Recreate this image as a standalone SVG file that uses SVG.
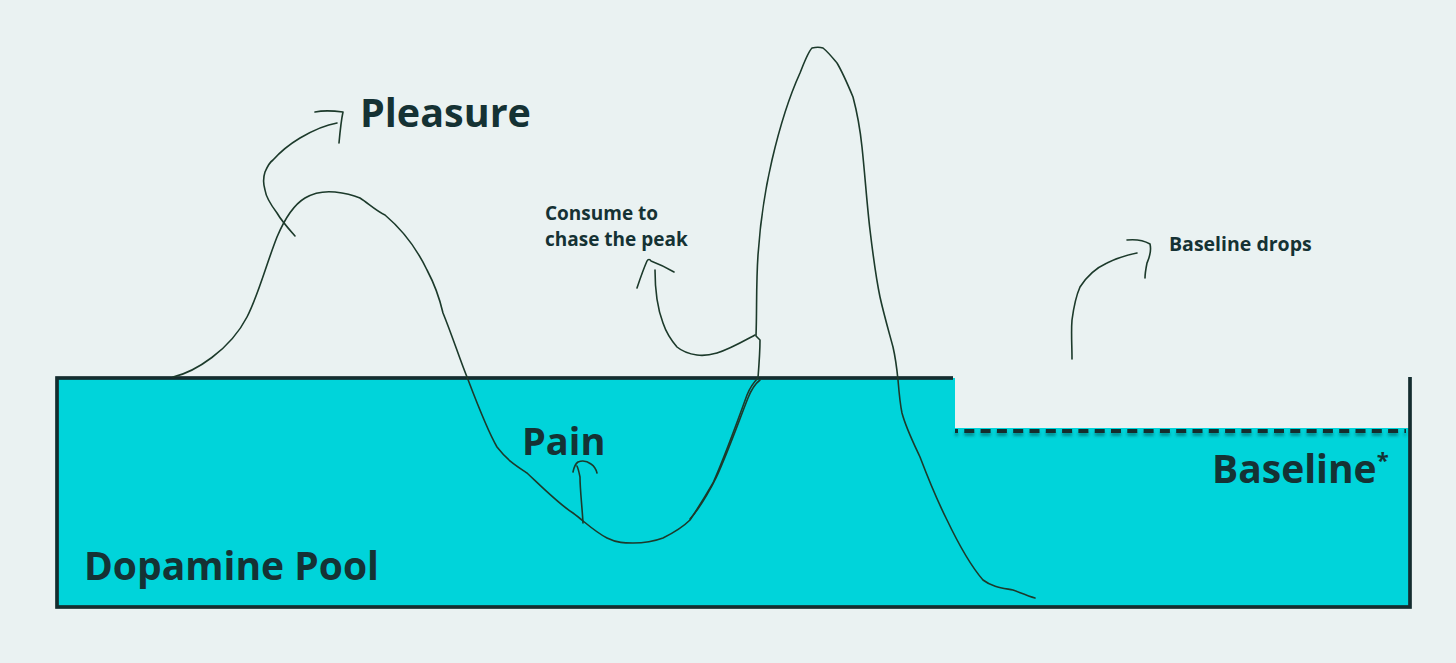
<svg xmlns="http://www.w3.org/2000/svg" width="1456" height="663" viewBox="0 0 1456 663">
<defs>
<style>
.lbl{font-family:"Open Sans","Liberation Sans",sans-serif;font-weight:700;fill:#153234}
.big{font-size:39px}
.small{font-size:19px}
.ink{fill:none;stroke:#1c3a2b;stroke-width:1.6;stroke-linecap:round;stroke-linejoin:round}
.edge{fill:none;stroke:#142d2f;stroke-width:3.5}
</style>
<filter id="sh" filterUnits="userSpaceOnUse" x="940" y="420" width="480" height="25">
<feDropShadow dx="0" dy="3" stdDeviation="1.5" flood-color="#0a3a3c" flood-opacity="0.45"/>
</filter>
</defs>
<rect width="1456" height="663" fill="#eaf2f2"/>
<g id="pool">
<polygon points="57,378 955,378 955,428 1410,428 1410,607 57,607" fill="#00d4da"/>
<path class="edge" d="M1410,377 V607 H57 V378 H953" stroke="#ffffff" stroke-opacity="0.5" stroke-width="6"/>
<path class="edge" d="M1410,377 V607 H57 V378 H953"/>
<line id="baseline-level" x1="955" y1="431" x2="1406" y2="431" stroke="#142d2f" stroke-width="3.8" stroke-dasharray="10 6.3" stroke-dashoffset="7" filter="url(#sh)"/>
<text class="lbl big" x="84" y="580">Dopamine Pool</text>
<text class="lbl big" x="1212" y="483">Baseline<tspan font-size="22" dy="-15">*</tspan></text>
</g>
<g id="connectors">
<path id="curve" class="ink" d="M173,377 C195,372 230,350 247,317 C258,296 266,265 277,237 C285,218 295,204 305,198 C315,192 325,191 335,192 C345,193 353,195 360,198 C368,203 375,210 385,215 C398,226 415,245 427,270 C435,285 440,300 443,313 C452,335 460,360 467,377 C475,398 487,430 497,447 C507,460 515,465 527,473 C545,490 560,505 573,513 C585,522 595,532 607,538 C617,543 625,543 633,543 C645,543 655,541 663,538 C675,532 683,527 690,520 C698,508 705,497 713,483 C725,456 738,420 747,395 C751,385 755,381 758,378 C759,365 760,352 760,340 L756,336 C757,310 756,285 758,255 C760,225 765,190 772,160 C779,130 790,95 800,73 C804,63 808,52 812,48 C816,47 820,47 823,48 C828,52 832,57 837,63 C843,73 848,85 853,97 C857,112 860,128 862,147 C865,175 867,205 870,230 C873,255 876,278 880,297 C884,315 889,332 893,347 C896,360 897,370 898,380 C899,392 900,404 902,413 C906,428 913,442 920,457 C928,478 937,500 947,520 C958,543 970,565 983,580 C992,587 1003,588 1013,590 C1021,593 1028,596 1035,598"/>
<path id="curve-strand" class="ink" d="M690,519 C698,510 706,498 716,478 C728,452 740,418 748,398 C752,388 756,383 760,380"/>
<path id="arrow-pleasure" class="ink" d="M295,236 C287,227 281,220 277,213 C271,205 266,197 265,190 C263,183 263,178 265,172 C268,165 270,162 273,160 C282,150 290,144 300,138 C312,131 325,125 337,123 M315,112 C325,110 335,111 343,112 C341,121 340,132 339,143"/>
<path id="arrow-consume" class="ink" d="M755,335 C742,342 730,349 717,353 C710,355 703,356 697,355 C690,354 683,352 677,347 C671,340 666,332 663,323 C658,310 655,290 655,270 M637,288 C640,279 643,270 647,261 C648,259 650,259 651,261 C659,264 667,268 674,272"/>
<path id="arrow-baseline" class="ink" d="M1072,359 C1072,345 1071,332 1072,320 C1074,305 1076,296 1080,287 C1087,276 1096,268 1107,263 C1117,258 1127,255 1137,253 M1127,240 C1136,239 1143,240 1150,244 C1152,252 1149,258 1147,263 C1146,268 1145,273 1145,278"/>
<path id="arrow-pain" class="ink" d="M583,523 C582,505 580,490 580,477 C579,472 578,468 577,466 M573,472 C574,467 575,464 578,462 C583,460 587,461 591,464 C594,466 596,469 597,473"/>
</g>
<g id="labels">
<text class="lbl" x="360" y="127" font-size="39.5">Pleasure</text>
<text class="lbl" x="522" y="455" font-size="38">Pain</text>
<text class="lbl small" x="545" y="220">Consume to</text>
<text class="lbl small" x="545" y="246">chase the peak</text>
<text class="lbl" x="1169" y="251" font-size="19.5">Baseline drops</text>
</g>
</svg>
